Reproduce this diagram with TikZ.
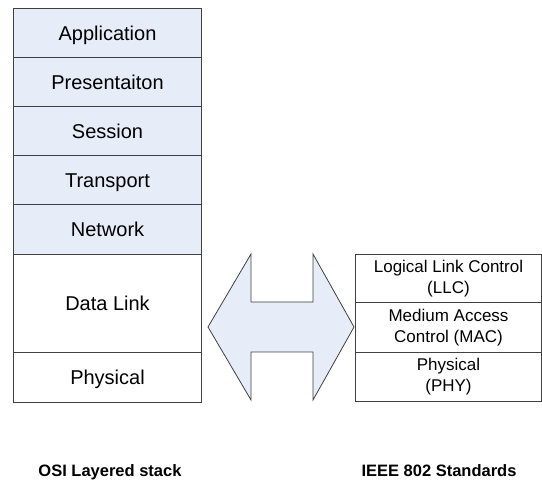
\documentclass[tikz,border=0pt]{standalone}
\usepackage{fontspec}
\setmainfont{Liberation Sans}
\definecolor{layerfill}{HTML}{E6ECF8}
\definecolor{edge}{HTML}{404040}
\begin{document}
\begin{tikzpicture}[x=1pt,y=-1pt,
  layer/.style={draw=edge, line width=1pt, rectangle, inner sep=0pt,
    anchor=north west, align=center},
  osi/.style={layer, minimum width=188pt, font=\fontsize{20}{24}\selectfont,
    text height=14.3pt, text depth=0pt},
  upper/.style={osi, fill=layerfill},
  ieee/.style={layer, minimum width=186pt, font=\fontsize{17}{21}\selectfont},
  caption/.style={font=\fontsize{16.5}{20}\selectfont\bfseries, anchor=base}]
\useasboundingbox (0,0) rectangle (542,481);

% OSI reference model
\node[upper, minimum height=49pt] (app)  at (13,8)   {Application};
\node[upper, minimum height=49pt] (pres) at (13,57)  {Presentaiton};
\node[upper, minimum height=49pt] (sess) at (13,106) {Session};
\node[upper, minimum height=49pt] (tran) at (13,155) {Transport};
\node[upper, minimum height=50pt] (net)  at (13,204) {Network};
\node[osi, minimum height=98pt]   (dl)   at (13,254) {Data Link};
\node[osi, minimum height=50pt]   (phy)  at (13,352) {Physical};

% IEEE 802 sublayers
\node[ieee, minimum height=48pt] (llc)  at (355,254) {Logical Link Control\\(LLC)};
\node[ieee, minimum height=50pt] (mac)  at (355,302) {Medium Access\\Control (MAC)};
\node[ieee, minimum height=49pt] (iphy) at (355,352) {Physical\\(PHY)};

% double-headed block arrow between the two stacks
\draw[draw=edge, line width=0.8pt, fill=layerfill, line join=miter]
  (208,327) -- (251,254) -- (251,302) -- (313,302) -- (313,254)
  -- (354,327) -- (313,400) -- (313,352) -- (251,352) -- (251,400) -- cycle;

% captions
\node[caption] (osicap)  at (110,477) {OSI Layered stack};
\node[caption] (ieeecap) at (439,477) {IEEE 802 Standards};
\end{tikzpicture}
\end{document}
